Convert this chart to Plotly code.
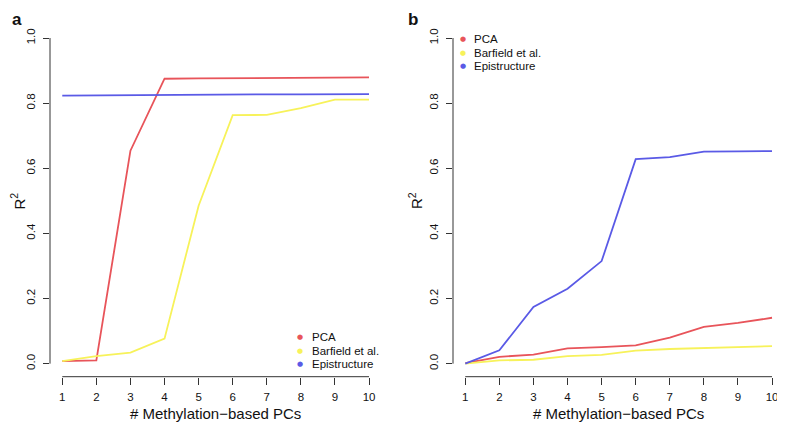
import plotly.graph_objects as go

# The page body has an 8px default margin; size the figure so that it fills
# the 785x425 window exactly.
OFF = 8
W, H = 785 - OFF, 425 - OFF

pcs = [1, 2, 3, 4, 5, 6, 7, 8, 9, 10]
series_names = ["PCA", "Barfield et al.", "Epistructure"]
colors = ["#E8545A", "#F7F25A", "#5A5AE6"]

# Panel a
a_pca = [0.008, 0.010, 0.654, 0.875, 0.876, 0.877, 0.878, 0.878, 0.879, 0.879]
a_barfield = [0.008, 0.023, 0.034, 0.077, 0.485, 0.763, 0.764, 0.785, 0.811, 0.811]
a_epi = [0.823, 0.824, 0.824, 0.825, 0.826, 0.826, 0.827, 0.827, 0.828, 0.828]

# Panel b
b_pca = [0.002, 0.021, 0.028, 0.047, 0.051, 0.056, 0.080, 0.113, 0.125, 0.141]
b_barfield = [0.000, 0.010, 0.012, 0.023, 0.027, 0.040, 0.045, 0.048, 0.049, 0.054]
b_epi = [0.000, 0.041, 0.174, 0.230, 0.315, 0.628, 0.634, 0.651, 0.652, 0.653]

y_ticks = [0.0, 0.2, 0.4, 0.6, 0.8, 1.0]
y_ticktext = ["0.0", "0.2", "0.4", "0.6", "0.8", "1.0"]
x_ticks = pcs
x_title = "# Methylation\u2212based PCs"
panel_labels = ["a", "b"]

FONT = "Liberation Sans, Arial, Helvetica, sans-serif"


def px_x(p):
    return (p - OFF) / W


def px_y(p):
    return 1 - (p - OFF) / H


fig = go.Figure()

panels = [
    ("x", "y", [a_pca, a_barfield, a_epi]),
    ("x2", "y2", [b_pca, b_barfield, b_epi]),
]
for xa, ya, data in panels:
    for name, col, vals in zip(series_names, colors, data):
        fig.add_trace(go.Scatter(x=pcs, y=vals, mode="lines", name=name,
                                 line=dict(color=col, width=1.8),
                                 xaxis=xa, yaxis=ya, showlegend=False))

xdomains = [[px_x(50), px_x(381.3)], [px_x(453), px_x(784.3)]]
ydomain = [px_y(376.7), px_y(25)]

axis_common_x = dict(range=[0.64, 10.36], tickmode="array", tickvals=x_ticks,
                     ticks="outside", ticklen=7, tickwidth=1, tickcolor="#333",
                     showline=False, showgrid=False, zeroline=False,
                     automargin=False,
                     tickfont=dict(family=FONT, size=11.5, color="#111"),
                     ticklabelstandoff=2)
axis_common_y = dict(range=[-0.04, 1.04], tickmode="array", tickvals=y_ticks,
                     ticktext=y_ticktext, tickangle=-90,
                     ticks="outside", ticklen=6, tickwidth=1, tickcolor="#333",
                     showline=False, showgrid=False, zeroline=False,
                     automargin=False,
                     tickfont=dict(family=FONT, size=11.5, color="#111"),
                     ticklabelstandoff=3)

fig.update_layout(
    width=W, height=H,
    margin=dict(l=0, r=0, t=0, b=0, autoexpand=False),
    paper_bgcolor="white", plot_bgcolor="white",
    xaxis=dict(domain=xdomains[0], anchor="y", **axis_common_x),
    yaxis=dict(domain=ydomain, anchor="x", **axis_common_y),
    xaxis2=dict(domain=xdomains[1], anchor="y2", **axis_common_x),
    yaxis2=dict(domain=ydomain, anchor="x2", **axis_common_y),
    showlegend=False,
)

shapes = []
annotations = []
for xa, ya, _ in panels:
    # detached R-style axis lines spanning first to last tick
    shapes.append(dict(type="line", xref=xa, yref=ya + " domain",
                       x0=x_ticks[0], x1=x_ticks[-1], y0=0, y1=0,
                       line=dict(color="#333", width=1)))
    shapes.append(dict(type="line", xref=xa + " domain", yref=ya,
                       x0=0, x1=0, y0=y_ticks[0], y1=y_ticks[-1],
                       line=dict(color="#333", width=1)))

# axis titles
for cx in [215.5, 618.5]:
    annotations.append(dict(text=x_title, xref="paper", yref="paper",
                            x=px_x(cx), y=px_y(413.5), showarrow=False,
                            xanchor="center", yanchor="middle",
                            font=dict(family=FONT, size=15, color="#111")))
for ax_x in [17.5, 415]:
    annotations.append(dict(text="R<sup>2</sup>", xref="paper", yref="paper",
                            x=px_x(ax_x), y=px_y(201), showarrow=False,
                            textangle=-90, xanchor="center", yanchor="middle",
                            font=dict(family=FONT, size=15, color="#111")))

# panel labels
for lab, lx in zip(panel_labels, [10, 406]):
    annotations.append(dict(text="<b>" + lab + "</b>", xref="paper", yref="paper",
                            x=px_x(lx), y=px_y(8), showarrow=False,
                            xanchor="left", yanchor="top",
                            font=dict(family=FONT, size=17, color="#111")))

# legends (dot + label), R-style
legend_pos = [(300, [337, 350.5, 364.3]), (462.7, [39, 52.5, 66])]
for dot_x, rows in legend_pos:
    for name, col, ry in zip(series_names, colors, rows):
        annotations.append(dict(text="\u25CF", xref="paper", yref="paper",
                                x=px_x(dot_x), y=px_y(ry), showarrow=False,
                                xanchor="center", yanchor="middle",
                                font=dict(family="DejaVu Sans", size=7, color=col)))
        annotations.append(dict(text=name, xref="paper", yref="paper",
                                x=px_x(dot_x + 9.5), y=px_y(ry), showarrow=False,
                                xanchor="left", yanchor="middle",
                                font=dict(family=FONT, size=11.5, color="#111")))

fig.update_layout(shapes=shapes, annotations=annotations)

fig.write_html("out.html")
